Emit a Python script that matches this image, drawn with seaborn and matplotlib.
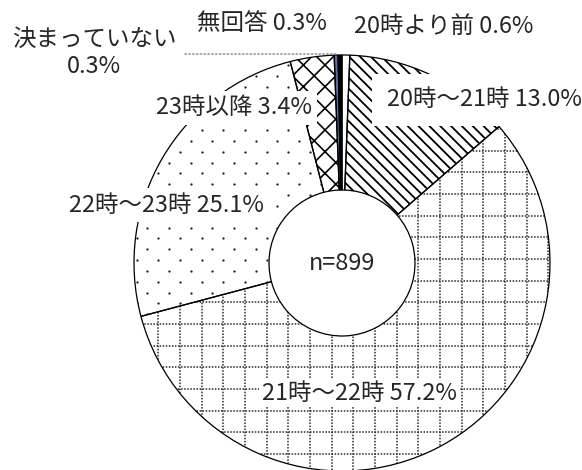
import numpy as np
import matplotlib
matplotlib.use("Agg")
import matplotlib.pyplot as plt
import seaborn as sns

# 就寝時刻 (n=899)
labels = ['20時より前', '20時～21時', '21時～22時', '22時～23時', '23時以降', '決まっていない', '無回答']
values = [0.6, 13.0, 57.2, 25.1, 3.4, 0.3, 0.3]
n_total = 899

fills = ['white', 'white', 'white', 'white', 'white', '#5b6fa8', 'black']
hatches = ['', '\\\\\\\\', '', '', 'xx', '', '']

sns.set_theme(style='white')
plt.rcParams['font.family'] = ['Noto Sans CJK JP', 'DejaVu Sans']

W, H, DPI = 582, 470, 130
fig = plt.figure(figsize=(W / DPI, H / DPI), dpi=DPI)
ax = fig.add_axes([0, 0, 1, 1])

def Y(y):
    return H - np.asarray(y)

center = (342, float(Y(263)))
R = 208
ring = 135

# fills + hatches
wedges, _ = ax.pie(values, startangle=90, counterclock=False, center=center, radius=R,
                   wedgeprops=dict(width=ring, linewidth=0))
for w, fc, ht in zip(wedges, fills, hatches):
    w.set_facecolor(fc)
    w.set_edgecolor('black')
    w.set_hatch(ht)
    w.set_linewidth(0)
    if hasattr(w, 'set_hatch_linewidth'):
        w.set_hatch_linewidth(1.0 if ht.startswith('\\') else 0.9)

# dotted grid texture (21時～22時)
step = 21.67
gx = np.arange(158.3 - 8 * step, W + step, step)
gy = np.arange(324 - 14 * step, H + step, step)
grid_style = dict(colors='#2a2a2a', linewidth=0.85, linestyles=(0, (1, 1)), zorder=1.5)
vl = ax.vlines(gx, 0, H, **grid_style)
hl = ax.hlines(Y(gy), 0, W, **grid_style)
for c in (vl, hl):
    c.set_clip_path(wedges[2])

# dot texture (22時～23時)
rows = np.arange(151.7 - 14 * step / 2, H, step / 2)
dx, dy = [], []
for k, ry in enumerate(rows):
    xs = np.arange(158.3 - 8 * step + (k % 2) * step / 2, W, step)
    dx.extend(xs)
    dy.extend([ry] * len(xs))
dots = ax.scatter(dx, Y(dy), s=1.6, color='#222222', linewidths=0, zorder=1.5)
dots.set_clip_path(wedges[3])

# outlines
outl, _ = ax.pie(values, startangle=90, counterclock=False, center=center, radius=R,
                 wedgeprops=dict(width=ring, linewidth=0.7, edgecolor='black', facecolor='none'))
for w in outl:
    w.set_zorder(2.5)

ax.set_xlim(0, W)
ax.set_ylim(0, H)
ax.set_aspect('equal')
ax.axis('off')

fs = 13
def lab(i):
    return f'{labels[i]} {values[i]:.1f}%'

box = lambda p: dict(facecolor='white', edgecolor='none', pad=p)

ax.text(262, Y(24), lab(6), ha='center', va='center', fontsize=fs)
ax.text(444, Y(26), lab(0), ha='center', va='center', fontsize=fs)
ax.text(484, Y(100), lab(1), ha='center', va='center', fontsize=fs, bbox=box(8), zorder=4)
ax.text(234, Y(108), lab(4), ha='center', va='center', fontsize=fs, bbox=box(3), zorder=4)
ax.text(166, Y(205), lab(3), ha='center', va='center', fontsize=fs, bbox=box(3), zorder=4)
ax.text(359, Y(393), lab(2), ha='center', va='center', fontsize=fs, bbox=box(1.5), zorder=4)
ax.text(342, Y(263), f'n={n_total}', ha='center', va='center', fontsize=fs)
ax.text(94, Y(53), f'{labels[5]}\n{values[5]:.1f}%', ha='center', va='center',
        fontsize=fs, linespacing=1.2)
ax.annotate('', xy=(337, Y(54)), xytext=(185, Y(54)),
            arrowprops=dict(arrowstyle='-', linestyle=':', color='#888888', lw=0.8,
                            shrinkA=0, shrinkB=0))

fig.savefig('out.png', dpi=DPI)
